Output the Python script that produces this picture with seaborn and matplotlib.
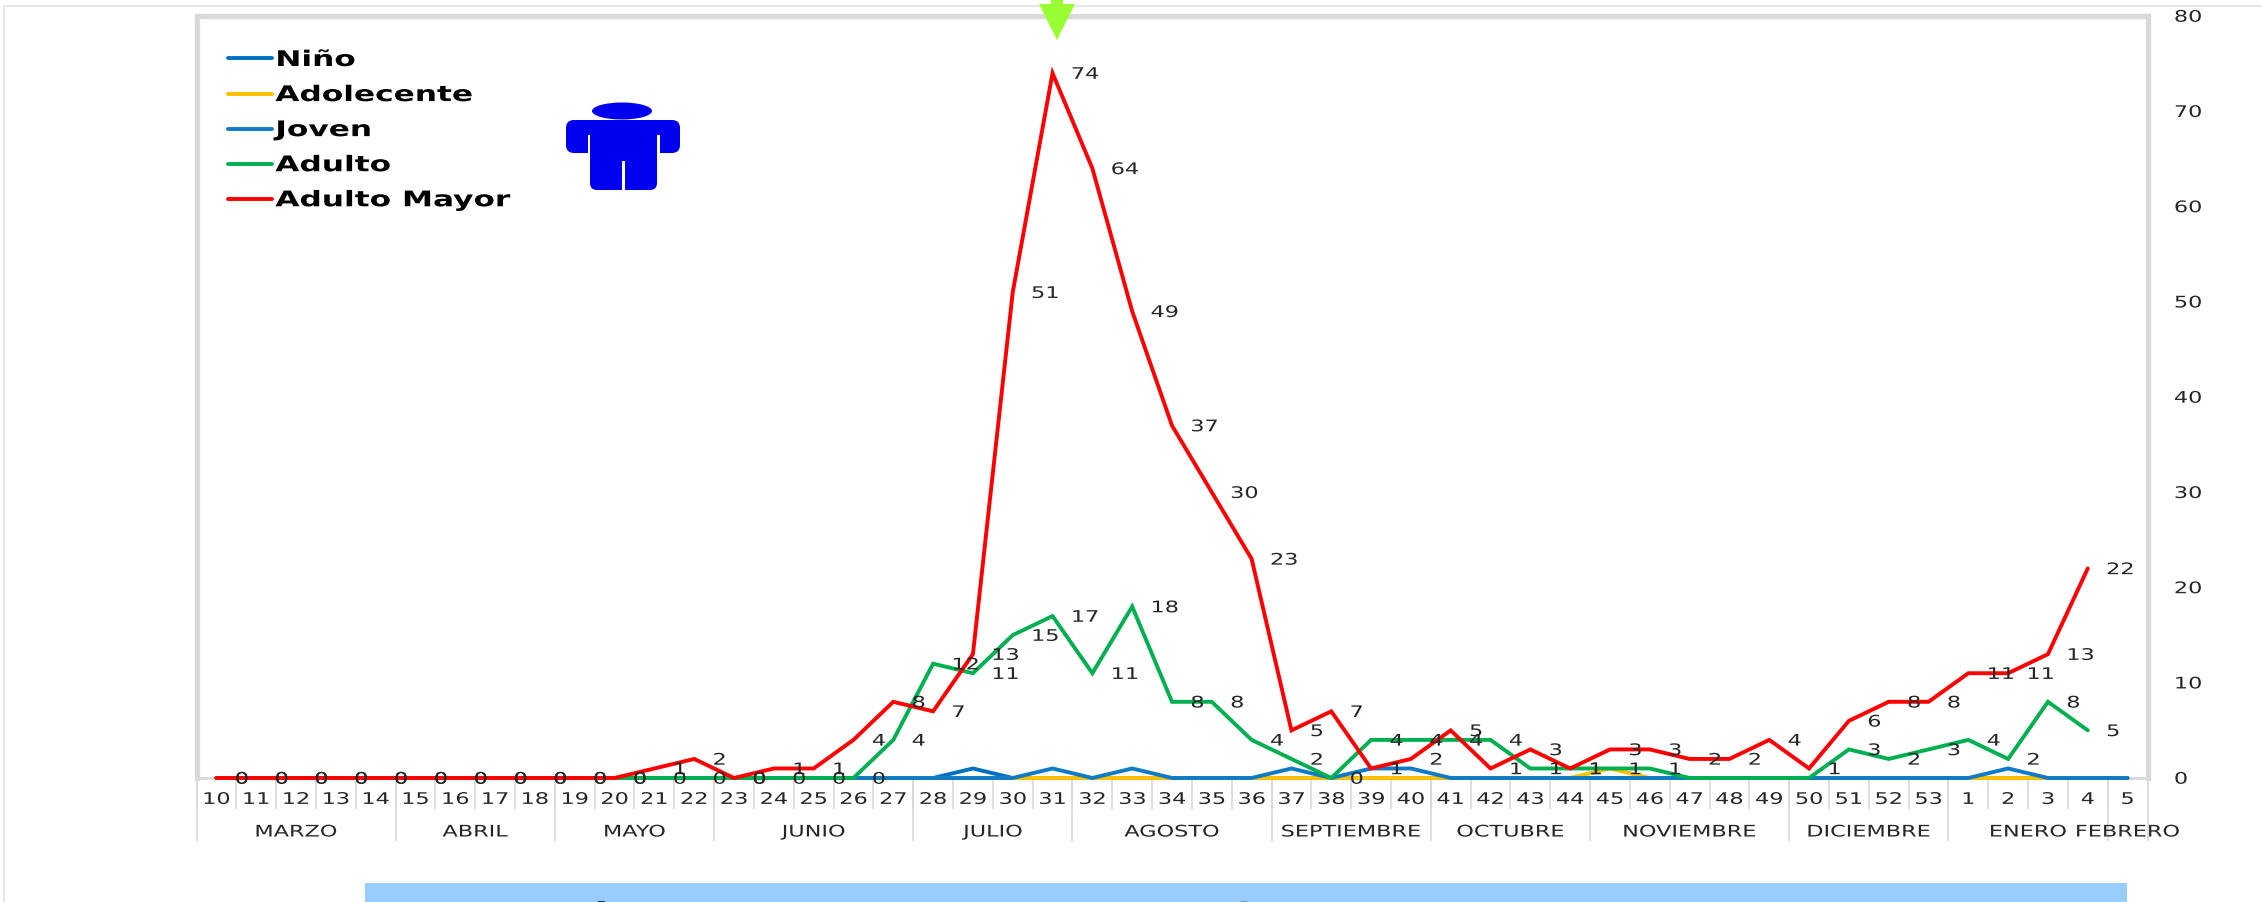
import numpy as np
import pandas as pd
import matplotlib
matplotlib.use('Agg')
import matplotlib.pyplot as plt
from matplotlib.patches import Ellipse, FancyBboxPatch, Polygon, Rectangle
from matplotlib.patheffects import AbstractPathEffect
from matplotlib.transforms import Affine2D
import seaborn as sns

semanas = list(range(10, 54)) + [1, 2, 3, 4, 5]
meses = ['MARZO', 'ABRIL', 'MAYO', 'JUNIO', 'JULIO', 'AGOSTO', 'SEPTIEMBRE',
         'OCTUBRE', 'NOVIEMBRE', 'DICIEMBRE', 'ENERO', 'FEBRERO']
semanas_por_mes = [5, 4, 4, 5, 4, 5, 4, 4, 5, 4, 4, 1]

nino = [0] * 19 + [1] + [0] * 29
adolecente = [0] * 35 + [1] + [0] * 13
joven = [0] * 21 + [1, 0, 1, 0, 0, 0, 1, 0, 1, 1] + [0] * 14 + [1, 0, 0, 0]
adulto = [0] * 17 + [4, 12, 11, 15, 17, 11, 18, 8, 8, 4, 2, 0, 4, 4, 4, 4, 1, 1, 1, 1,
                     0, 0, 0, 0, 3, 2, 3, 4, 2, 8, 5, np.nan]
adulto_mayor = [0] * 11 + [1, 2, 0, 1, 1, 4, 8, 7, 13, 51, 74, 64, 49, 37, 30, 23, 5, 7,
                           1, 2, 5, 1, 3, 1, 3, 3, 2, 2, 4, 1, 6, 8, 8, 11, 11, 13, 22, np.nan]
y_ticks = [0, 10, 20, 30, 40, 50, 60, 70, 80]

grupos = ['Niño', 'Adolecente', 'Joven', 'Adulto', 'Adulto Mayor']
colores = ['#0070C0', '#FFC000', '#0F7AC6', '#00B050', '#FF0000']
series = [nino, adolecente, joven, adulto, adulto_mayor]

W, H = 2262, 902
pos = np.arange(len(semanas))
df = pd.concat([pd.DataFrame({'pos': pos, 'valor': s, 'grupo': g}) for g, s in zip(grupos, series)],
               ignore_index=True)


# la imagen original esta estirada a lo ancho: se estira el texto igual
class Ancho(AbstractPathEffect):
    def __init__(self, sx, cx, dy=0):
        super().__init__()
        self.sx = sx
        self.cx = cx
        self.dy = dy

    def draw_path(self, renderer, gc, tpath, affine, rgbFace=None):
        t = affine + Affine2D().translate(-self.cx, 0).scale(self.sx, 1).translate(self.cx, self.dy)
        renderer.draw_path(gc, tpath, t, rgbFace)


def estirar(textos, sx, ancla='left', dy=0):
    for t in textos:
        bb = t.get_window_extent()
        cx = bb.x0 if ancla == 'left' else (bb.x0 + bb.x1) / 2
        t.set_path_effects([Ancho(sx, cx, dy)])


sns.set_theme(style='white')
plt.rcParams['font.family'] = ['DejaVu Sans']
TXT = '#262626'
GRIS = '#D9D9D9'
FS = 11.5

fig = plt.figure(figsize=(W / 100, H / 100), dpi=100, facecolor='white')
ax = fig.add_axes([196.5 / W, 1 - 778 / H, (2147.5 - 196.5) / W, (778 - 16) / H])
sns.lineplot(data=df, x='pos', y='valor', hue='grupo', hue_order=grupos, palette=colores,
             estimator=None, sort=False, linewidth=2.8, ax=ax)
for line in ax.lines:
    line.set_clip_on(False)
    line.set_zorder(3)
    line.set_solid_joinstyle('miter')

ax.set_xlim(-0.5, len(semanas) - 0.5)
ax.set_ylim(0, 80)
ax.set_xlabel('')
ax.set_ylabel('')
ax.set_xticks(pos)
ax.set_xticklabels(semanas, fontsize=FS, color=TXT)
ax.set_yticks(y_ticks)
ax.yaxis.tick_right()
ax.tick_params(axis='y', length=0, pad=19, labelsize=FS, labelcolor=TXT)
ax.tick_params(axis='x', length=0, pad=10)
for lab in ax.get_yticklabels():
    lab.set_verticalalignment('center')

for side in ['left', 'top', 'right']:
    ax.spines[side].set_color(GRIS)
    ax.spines[side].set_linewidth(3.8)
ax.spines['bottom'].set_color(GRIS)
ax.spines['bottom'].set_linewidth(2)

# separadores del eje de categorias
trans = ax.get_xaxis_transform()
limites = np.cumsum([0] + semanas_por_mes) - 0.5
ax.vlines(pos - 0.5, -31 / 762, 0, transform=trans, color=GRIS, lw=1.2, clip_on=False)
ax.vlines(limites, -63 / 762, 0, transform=trans, color=GRIS, lw=1.2, clip_on=False)
txt_meses = []
for i, mes in enumerate(meses):
    txt_meses.append(ax.text((limites[i] + limites[i + 1]) / 2, -54 / 762, mes, transform=trans,
                             ha='center', va='center', fontsize=FS, color=TXT))

# etiquetas de datos
txt_datos = []
for x, v in zip(pos, adulto):
    if np.isnan(v) or (v == 0 and semanas[x] in (47, 48, 49, 50)):
        continue
    txt_datos.append(ax.annotate(str(int(v)), (x, v), xytext=(13.2, 0), textcoords='offset points',
                                 ha='left', va='center', fontsize=FS, color=TXT, annotation_clip=False))
for x, v in zip(pos, adulto_mayor):
    if np.isnan(v):
        continue
    txt_datos.append(ax.annotate(str(int(v)), (x, v), xytext=(13.2, 0), textcoords='offset points',
                                 ha='left', va='center', fontsize=FS, color=TXT, annotation_clip=False))

handles, labels = ax.get_legend_handles_labels()
leg = ax.legend(handles, labels, loc='upper left', bbox_to_anchor=(31 / 1951, 1 - 34 / 762),
                frameon=False, fontsize=15.5, handlelength=2.09, handletextpad=0.13,
                labelspacing=0.7, borderpad=0, borderaxespad=0)
for t in leg.get_texts():
    t.set_fontweight('bold')
    t.set_color('black')

# capa en pixeles para lo que no es dato
ov = fig.add_axes([0, 0, 1, 1], zorder=-1)
ov.set_xlim(0, W)
ov.set_ylim(H, 0)
ov.axis('off')
ax.patch.set_alpha(0)
ov.plot([4, 4, W], [H, 6, 6], color='#E3E3E3', lw=1.2)
ov.add_patch(Rectangle((365, 883), 2127 - 365, 19, color='#99CCFF', lw=0))
ov.add_patch(Rectangle((598, 901), 7, 1, color='#22304A', lw=0))
ov.add_patch(Rectangle((1240, 901), 7, 1, color='#6FA0D0', lw=0))

top = fig.add_axes([0, 0, 1, 1], zorder=5)
top.set_xlim(0, W)
top.set_ylim(H, 0)
top.axis('off')
verde = '#99FF33'
top.add_patch(Polygon([(1039, 4), (1051, 4), (1051, 0), (1063, 0), (1063, 4), (1075, 4), (1057, 40)],
                      color=verde, lw=0))
azul = '#0000EE'
top.add_patch(Ellipse((622, 111), 60, 17, color=azul, lw=0))
top.add_patch(FancyBboxPatch((566, 120), 114, 33, boxstyle='round,pad=0,rounding_size=8', color=azul, lw=0))
top.add_patch(Rectangle((590, 125), 67, 50, color=azul, lw=0))
top.add_patch(FancyBboxPatch((590, 165), 67, 25, boxstyle='round,pad=0,rounding_size=7', color=azul, lw=0))
top.add_patch(Rectangle((587.5, 135), 2.5, 20, color='white', lw=0))
top.add_patch(Rectangle((657, 135), 2.5, 20, color='white', lw=0))
top.add_patch(Rectangle((622, 161), 2.5, 30, color='white', lw=0))

fig.canvas.draw()
estirar(ax.get_xticklabels(), 1.4, 'center')
estirar(ax.get_yticklabels(), 1.4, dy=-1.2)
estirar(txt_meses, 1.4, 'center')
estirar(txt_datos, 1.4, dy=-1.2)
estirar(leg.get_texts(), 1.45)

fig.savefig('out.png', dpi=100)
